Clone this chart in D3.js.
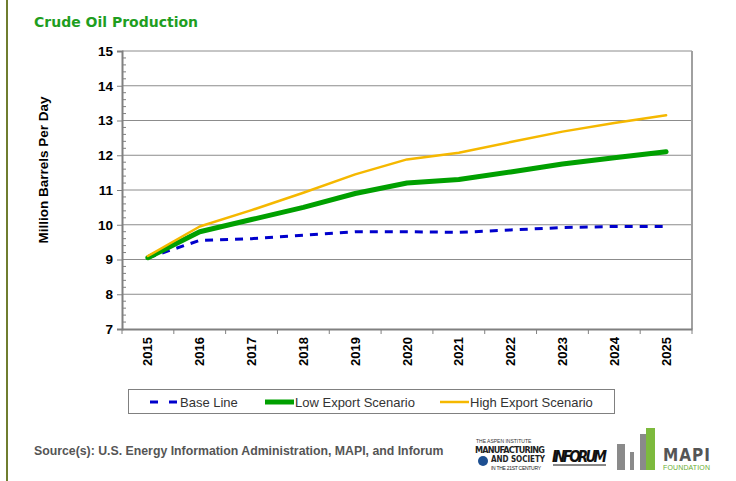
<!DOCTYPE html>
<html>
<head>
<meta charset="utf-8">
<script src="https://cdn.jsdelivr.net/npm/d3@7"></script>
<style>
  body { margin: 0; background: #fff; }
  svg { display: block; font-family: "Liberation Sans", Arial, sans-serif; }
</style>
</head>
<body>
<div id="chart"></div>
<script>
const years = ['2015', '2016', '2017', '2018', '2019', '2020', '2021', '2022', '2023', '2024', '2025'];
const baseLine = [9.05, 9.55, 9.6, 9.7, 9.8, 9.8, 9.78, 9.85, 9.92, 9.95, 9.95];
const lowExport = [9.05, 9.8, 10.15, 10.5, 10.9, 11.2, 11.3, 11.52, 11.75, 11.93, 12.1];
const highExport = [9.1, 9.95, 10.42, 10.92, 11.45, 11.88, 12.07, 12.38, 12.68, 12.93, 13.15];
const yTicks = [7, 8, 9, 10, 11, 12, 13, 14, 15];

const series = [
    { name: 'Base Line', values: baseLine, color: '#0000cc', width: 3, dash: '8,7' },
    { name: 'Low Export Scenario', values: lowExport, color: '#00a000', width: 5, dash: null },
    { name: 'High Export Scenario', values: highExport, color: '#f5b800', width: 2.5, dash: null }
];

const W = 736, H = 481;
const plot = { left: 122, right: 692, top: 51, bottom: 329 };

const svg = d3.select('#chart').append('svg')
    .attr('width', W)
    .attr('height', H);

// left page border
svg.append('line')
    .attr('x1', 7).attr('x2', 7).attr('y1', 0).attr('y2', H)
    .attr('stroke', '#6f7d2f').attr('stroke-width', 2);

// title
svg.append('text')
    .attr('x', 34).attr('y', 27)
    .attr('font-family', '"DejaVu Sans", Verdana, sans-serif')
    .attr('font-weight', 'bold')
    .attr('font-size', 14)
    .attr('fill', '#1f9e1f')
    .text('Crude Oil Production');

const x = d3.scaleBand()
    .domain(years)
    .range([plot.left, plot.right]);

const y = d3.scaleLinear()
    .domain([7, 15])
    .range([plot.bottom, plot.top]);

// gridlines
svg.append('g')
    .selectAll('line')
    .data(yTicks.slice(1))
    .enter()
    .append('line')
    .attr('x1', plot.left).attr('x2', plot.right)
    .attr('y1', d => y(d)).attr('y2', d => y(d))
    .attr('stroke', '#8c8c8c').attr('stroke-width', 1);

// right border
svg.append('line')
    .attr('x1', plot.right).attr('x2', plot.right)
    .attr('y1', plot.top).attr('y2', plot.bottom)
    .attr('stroke', '#a0a0a0').attr('stroke-width', 2);

// y axis
const yAxis = svg.append('g')
    .attr('transform', `translate(${plot.left},0)`)
    .call(d3.axisLeft(y).tickValues(yTicks).tickSize(5).tickFormat(d3.format('d')));
yAxis.select('.domain').attr('stroke', '#808080').attr('stroke-width', 2);
yAxis.selectAll('.tick line').attr('stroke', '#808080');
yAxis.selectAll('.tick text')
    .attr('font-size', 13.5).attr('font-weight', 'bold').attr('fill', '#000')
    .attr('x', -9);

// minor ticks (inside)
const minor = d3.range(7, 15.001, 0.2).filter(v => Math.abs(v - Math.round(v)) > 0.01);
svg.append('g')
    .selectAll('line')
    .data(minor)
    .enter()
    .append('line')
    .attr('x1', plot.left).attr('x2', plot.left + 4)
    .attr('y1', d => y(d)).attr('y2', d => y(d))
    .attr('stroke', '#808080');

// x axis
const xAxis = svg.append('g')
    .attr('transform', `translate(0,${plot.bottom})`)
    .call(d3.axisBottom(x).tickSize(0));
xAxis.select('.domain').attr('stroke', '#808080').attr('stroke-width', 2);
xAxis.selectAll('.tick text')
    .attr('font-size', 13).attr('font-weight', 'bold').attr('fill', '#000')
    .attr('transform', 'rotate(-90)')
    .attr('text-anchor', 'end')
    .attr('x', -8).attr('y', 0).attr('dy', '0.35em');

// band boundary ticks
svg.append('g')
    .selectAll('line')
    .data(years.concat(['end']))
    .enter()
    .append('line')
    .attr('x1', (d, i) => plot.left + i * x.bandwidth())
    .attr('x2', (d, i) => plot.left + i * x.bandwidth())
    .attr('y1', plot.bottom).attr('y2', plot.bottom + 5)
    .attr('stroke', '#808080');

// y title
svg.append('text')
    .attr('transform', `translate(48,${(plot.top + plot.bottom) / 2 - 20}) rotate(-90)`)
    .attr('text-anchor', 'middle')
    .attr('font-size', 13.5).attr('font-weight', 'bold')
    .text('Million Barrels Per Day');

// lines
const line = d3.line()
    .x((d, i) => x(years[i]) + x.bandwidth() / 2)
    .y(d => y(d));

series.forEach(s => {
    svg.append('path')
        .datum(s.values)
        .attr('fill', 'none')
        .attr('stroke', s.color)
        .attr('stroke-width', s.width)
        .attr('stroke-dasharray', s.dash)
        .attr('stroke-linejoin', 'round')
        .attr('stroke-linecap', s.dash ? 'butt' : 'round')
        .attr('d', line);
});

// legend
const legend = svg.append('g');
legend.append('rect')
    .attr('x', 128.5).attr('y', 389.5).attr('width', 486).attr('height', 24)
    .attr('fill', '#fff').attr('stroke', '#808080');
const legendX = [150, 265, 440];
series.forEach((s, i) => {
    legend.append('line')
        .attr('x1', legendX[i]).attr('x2', legendX[i] + 29)
        .attr('y1', 402).attr('y2', 402)
        .attr('stroke', s.color)
        .attr('stroke-width', s.width)
        .attr('stroke-dasharray', s.dash ? '8,11' : null);
    legend.append('text')
        .attr('x', legendX[i] + 30).attr('y', 406.5)
        .attr('font-size', 13).attr('fill', '#333')
        .text(s.name);
});

// source
svg.append('text')
    .attr('x', 34).attr('y', 455)
    .attr('font-size', 12.3).attr('font-weight', 'bold').attr('fill', '#555')
    .text('Source(s): U.S. Energy Information Administration, MAPI, and Inforum');

// logos (approximated)
const logos = svg.append('g');
logos.append('text').attr('x', 476).attr('y', 443).attr('font-size', 5).attr('fill', '#333').text('THE ASPEN INSTITUTE');
logos.append('text').attr('x', 475).attr('y', 453)
    .attr('font-family', '"DejaVu Sans Condensed", sans-serif').attr('font-weight', 'bold')
    .attr('font-size', 9).attr('fill', '#222').attr('textLength', 70).text('MANUFACTURING');
logos.append('circle').attr('cx', 483).attr('cy', 461).attr('r', 5).attr('fill', '#1d4f91');
logos.append('text').attr('x', 491).attr('y', 462)
    .attr('font-family', '"DejaVu Sans Condensed", sans-serif').attr('font-weight', 'bold')
    .attr('font-size', 8).attr('fill', '#222').attr('textLength', 54).text('AND SOCIETY');
logos.append('text').attr('x', 491).attr('y', 470)
    .attr('font-size', 5).attr('fill', '#222').attr('textLength', 50).text('IN THE 21ST CENTURY');
logos.append('text').attr('x', 552).attr('y', 462)
    .attr('font-family', '"DejaVu Sans Condensed", sans-serif').attr('font-weight', 'bold').attr('font-style', 'italic')
    .attr('font-size', 15).attr('fill', '#111').attr('textLength', 55).text('INFORUM');
logos.append('line').attr('x1', 553).attr('x2', 606).attr('y1', 465).attr('y2', 465).attr('stroke', '#111').attr('stroke-width', 1);
logos.append('rect').attr('x', 617).attr('y', 444).attr('width', 8).attr('height', 26).attr('fill', '#8a8a8a');
logos.append('rect').attr('x', 630).attr('y', 452).attr('width', 4).attr('height', 18).attr('fill', '#8a8a8a');
logos.append('rect').attr('x', 640).attr('y', 434).attr('width', 6).attr('height', 36).attr('fill', '#8a8a8a');
logos.append('rect').attr('x', 646).attr('y', 428).attr('width', 9).attr('height', 42).attr('fill', '#7dba3d');
logos.append('text').attr('x', 663).attr('y', 461)
    .attr('font-family', '"DejaVu Sans Condensed", sans-serif').attr('font-weight', 'bold')
    .attr('font-size', 17).attr('fill', '#555').attr('textLength', 47).text('MAPI');
logos.append('text').attr('x', 663).attr('y', 470)
    .attr('font-size', 7).attr('fill', '#6aae32').attr('textLength', 47).text('FOUNDATION');
</script>
</body>
</html>
